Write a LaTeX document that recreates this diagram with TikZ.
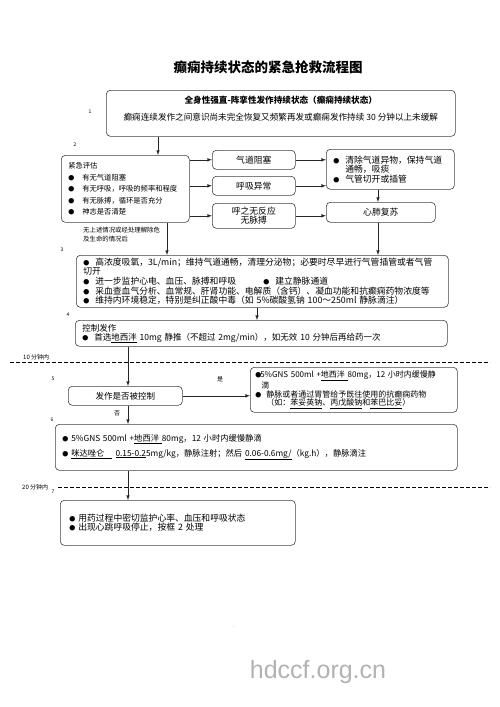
\documentclass[tikz,border=0pt]{standalone}
\usepackage{fontspec}
\setmainfont{Noto Sans CJK SC}
\newfontfamily\wmfont{Liberation Sans}
\usetikzlibrary{arrows,positioning}
\tikzset{
	box/.style={draw=black!75,line width=0.6pt,rounded corners=4pt,anchor=north west,inner sep=0pt},
	arr/.style={-latex,line width=0.6pt,draw=black!85},
	steptag/.style={font=\fontsize{5}{5}\selectfont,inner sep=0pt},
	timerule/.style={line width=0.7pt,dash pattern=on 3.5pt off 2.5pt}
}
\newcommand\bul[1][10pt]{\makebox[#1][l]{\fontsize{6}{6}\selectfont ●}}

\begin{document}
\begin{tikzpicture}[x=1pt,y=-1pt,
			note/.style={font=\fontsize{6}{7.5}\selectfont,inner sep=0pt},
		]
			\useasboundingbox (0,0) rectangle (500,707);

			\node[font=\bfseries\fontsize{13.5}{13.5}\selectfont] (title) at (268,67) {癫痫持续状态的紧急抢救流程图};

			\node[box,minimum width=349pt,minimum height=46pt,align=center,font=\fontsize{8.6}{10}\selectfont] (b1) at (106,90)
				{{\bfseries 全身性强直-阵挛性发作持续状态（癫痫持续状态）}\\[7pt]
				癫痫连续发作之间意识尚未完全恢复又频繁再发或癫痫发作持续 30 分钟以上未缓解\\ \mbox{}};

			\node[box,minimum width=128pt,minimum height=67pt,text width=114pt,align=left,font=\fontsize{7.3}{11.5}\selectfont] (b2) at (61,155)
				{紧急评估\\
				\bul[14pt]有无气道阻塞\\
				\bul[14pt]有无呼吸，呼吸的频率和程度\\
				\bul[14pt]有无脉搏，循环是否充分\\
				\bul[14pt]神志是否清楚};

			\foreach \nm/\y/\h/\t in {a1/150/19/气道阻塞, a2/176/19/呼吸异常, a3/203/25/{呼之无反应\\无脉搏}}{
				\node[box,minimum width=83pt,minimum height=\h pt,align=center,font=\fontsize{8.8}{9.5}\selectfont] (\nm) at (212,\y) {\t};
			}

			\node[box,minimum width=128pt,minimum height=40pt,text width=114pt,align=left,font=\fontsize{8.8}{9.5}\selectfont] (c1) at (326,149)
				{\bul[12pt]清除气道异物，保持气道\\
				\hspace*{12pt}通畅，吸痰\\
				\bul[12pt]气管切开或插管};
			\node[box,minimum width=109pt,minimum height=20pt,align=center,font=\fontsize{8.8}{9.5}\selectfont] (c2) at (326,202) {心肺复苏};

			\node[note,anchor=north west,align=left,font=\fontsize{6.4}{8.5}\selectfont] (n2) at (83,227) {无上述情况或经处理解除危\\及生命的情况后};

			\node[box,minimum width=372pt,minimum height=52pt,text width=358pt,align=left,font=\fontsize{8.8}{9.6}\selectfont] (b3) at (76,255)
				{\bul[12pt]高浓度吸氧，3L/min；维持气道通畅，清理分泌物；必要时尽早进行气管插管或者气管\\
				切开\\
				\makebox[180pt][l]{\bul[12pt]进一步监护心电、血压、脉搏和呼吸}\bul[12pt]建立静脉通道\\
				\bul[12pt]采血查血气分析、血常规、肝肾功能、电解质（含钙）、凝血功能和抗癫痫药物浓度等\\
				\bul[12pt]维持内环境稳定，特别是纠正酸中毒（如 5\%碳酸氢钠 100～250ml 静脉滴注）};

			\node[box,minimum width=372pt,minimum height=26pt,text width=358pt,align=left,font=\fontsize{8.5}{9}\selectfont] (b4) at (75,320)
				{控制发作\\
				\bul[12pt]首选\underline{地西泮} 10mg 静推（不超过 2mg/min），如无效 10 分钟后再给药一次};

			\node[box,minimum width=114pt,minimum height=19pt,align=center,font=\fontsize{8.5}{9}\selectfont] (b5) at (68,386) {发作是否被控制};

			\node[box,minimum width=207pt,minimum height=45pt,text width=197pt,align=left,font=\fontsize{8}{8.2}\selectfont] (d1) at (250,367)
				{\bul[5pt]5\%GNS 500ml +\underline{地西泮 }80mg，12 小时内缓慢静\\
				\hspace*{6pt}滴\\[1pt]
				\bul[11pt]静脉或者通过胃管给予既往使用的抗癫痫药物\\
				\hspace*{11pt}（如：\underline{苯妥英钠}、\underline{丙戊酸钠}和\underline{苯巴比妥}）};

			\node[box,minimum width=402pt,minimum height=46pt,text width=388pt,align=left,font=\fontsize{8.3}{9}\selectfont] (b6) at (55,424)
				{\bul[9pt]5\%GNS 500ml +\underline{地西泮 }80mg，12 小时内缓慢静滴\\[4pt]
				\bul[9pt]\underline{咪达唑仑\hspace{7pt}}\hspace{4pt}\underline{0.15-0.2}5mg/kg，静脉注射；然后 \underline{0.06-0.6mg/}（kg.h），静脉滴注};

			\node[box,minimum width=235pt,minimum height=45pt,text width=217pt,align=left,font=\fontsize{8.8}{9}\selectfont] (b7) at (60,500)
				{\bul[9pt]用药过程中密切监护心率、血压和呼吸状态\\
				\bul[9pt]出现心跳呼吸停止，按框 2 处理};

			\foreach \n/\x/\y in {1/90/112, 2/75/145, 3/62/250, 4/68/315, 5/53/379, 6/52/420, 7/53/492}{
				\node[steptag] (t\n) at (\x,\y) {\n};
			}

			% time marks
			\node[note,anchor=west] (m10) at (23,357) {10 分钟内};
			\draw[timerule] (10,362) -- (490,362);
			\node[note,anchor=west] (m20) at (22,487) {20 分钟内};
			\draw[timerule] (58,487) -- (490,487);

			\coordinate (x1) at (158,0);
			\coordinate (x2) at (167,0);
			\coordinate (x3) at (378,0);
			\coordinate (x4) at (257,0);
			\coordinate (x5) at (128,0);

			\draw[arr] (b1.south -| x1) -- (b2.north -| x1);
			\foreach \nm in {a1,a2,a3}{
				\draw[arr] (b2.east |- \nm) -- (\nm.west);
			}
			\draw[arr] (a1.east) -- (c1.west |- a1);
			\draw[arr] (a2.east) -- (c1.west |- a2);
			\draw[arr] (a3.east) -- (c2.west |- a3);
			\draw[arr] (c1.south -| x3) -- (c2.north -| x3);
			\draw[arr] (c2.south -| x3) -- (b3.north -| x3);
			\draw[arr] (b2.south -| x2) -- (b3.north -| x2);
			\draw[arr] (b3.south -| x4) -- (b4.north -| x4);
			\draw[arr] (b4.south -| x5) -- (b5.north -| x5);
			\draw[arr] (b5.east) -- (d1.west |- b5);
			\draw[arr] (b5.south -| x5) -- (b6.north -| x5);
			\draw[arr] (b6.south -| x5) -- (b7.north -| x5);

			\node[note] (yes) at (220,379) {是};
			\node[note] (no) at (117,413) {否};

			\node[font=\fontsize{4}{4}\selectfont,inner sep=0pt] (pg) at (234,627) {.};
			\node[font=\wmfont\fontsize{25}{25}\selectfont,text=black!30] (wm) at (318,672) {hdccf.org.cn};
		\end{tikzpicture}
\end{document}
